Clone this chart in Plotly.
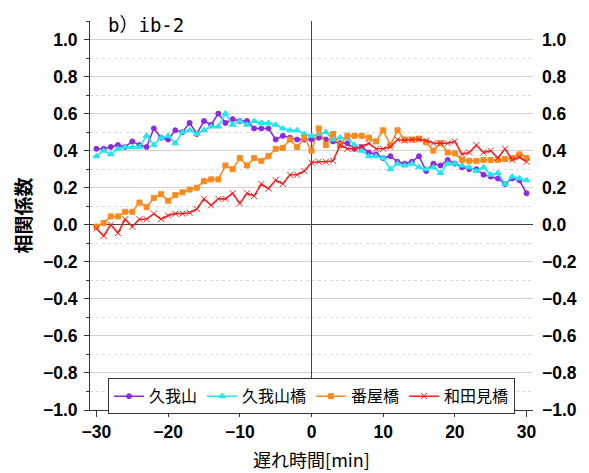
import plotly.graph_objects as go

# lag in minutes
lag = list(range(-30, 31))

kugayama = [0.41, 0.41, 0.42, 0.43, 0.42, 0.45, 0.43, 0.42, 0.52, 0.47,
            0.46, 0.51, 0.50, 0.55, 0.49, 0.56, 0.54, 0.60, 0.55, 0.57,
            0.56, 0.56, 0.52, 0.52, 0.52, 0.46, 0.48, 0.47, 0.46, 0.46,
            0.46,
            0.47, 0.46, 0.45, 0.44, 0.44, 0.41, 0.42, 0.39, 0.38, 0.36,
            0.37, 0.34, 0.33, 0.34, 0.37, 0.29, 0.33, 0.32, 0.35, 0.33,
            0.31, 0.30, 0.30, 0.27, 0.26, 0.25, 0.22, 0.25, 0.24, 0.17]

kugayama_bashi = [0.37, 0.40, 0.38, 0.41, 0.42, 0.42, 0.42, 0.48, 0.43, 0.47,
                  0.48, 0.44, 0.50, 0.51, 0.49, 0.51, 0.53, 0.53, 0.60, 0.54,
                  0.56, 0.54, 0.56, 0.55, 0.55, 0.54, 0.52, 0.51, 0.51, 0.49,
                  0.48,
                  0.49, 0.50, 0.46, 0.47, 0.47, 0.43, 0.40, 0.37, 0.37, 0.36,
                  0.30, 0.33, 0.32, 0.33, 0.31, 0.30, 0.31, 0.28, 0.33, 0.33,
                  0.32, 0.31, 0.29, 0.31, 0.27, 0.28, 0.22, 0.26, 0.25, 0.24]

banya_bashi = [-0.01, 0.01, 0.045, 0.045, 0.07, 0.07, 0.12, 0.095, 0.145, 0.165,
               0.13, 0.16, 0.175, 0.19, 0.20, 0.235, 0.245, 0.245, 0.32, 0.30,
               0.36, 0.32, 0.36, 0.345, 0.37, 0.41, 0.415, 0.46, 0.42, 0.47,
               0.40,
               0.52, 0.43, 0.49, 0.43, 0.48, 0.48, 0.48, 0.47, 0.45, 0.51,
               0.43, 0.51, 0.46, 0.46, 0.465, 0.445, 0.40, 0.44, 0.39, 0.385,
               0.35, 0.345, 0.345, 0.35, 0.35, 0.35, 0.355, 0.36, 0.38, 0.36]

wadami_bashi = [-0.02, -0.06, 0.0, -0.045, 0.03, -0.01, 0.03, 0.03, 0.06, 0.03,
                0.05, 0.06, 0.06, 0.065, 0.085, 0.14, 0.105, 0.14, 0.14, 0.17,
                0.115, 0.17, 0.155, 0.22, 0.195, 0.24, 0.22, 0.27, 0.27, 0.29,
                0.335,
                0.34, 0.34, 0.345, 0.43, 0.41, 0.41, 0.42, 0.44, 0.41, 0.41,
                0.42, 0.46, 0.455, 0.46, 0.46, 0.455, 0.44, 0.44, 0.44, 0.45,
                0.38, 0.39, 0.43, 0.39, 0.40, 0.36, 0.41, 0.35, 0.365, 0.34]

series = [
    ("久我山", kugayama, "#8A2BE2", "circle", 5),
    ("久我山橋", kugayama_bashi, "#22E5F0", "triangle-up", 6),
    ("番屋橋", banya_bashi, "#FF8A1C", "square", 5),
    ("和田見橋", wadami_bashi, "#FF1E1E", "x-thin", 6),
]

y_ticks = [round(-1.0 + 0.2 * i, 1) for i in range(11)]
y_ticktext = [f"{v:.1f}".replace("-", "\u2212") for v in y_ticks]

JP = "Noto Sans CJK JP"
NUM = "Liberation Sans"

fig = go.Figure()
for name, vals, color, symbol, size in series:
    fig.add_trace(go.Scatter(
        x=lag, y=vals, name=name, mode="lines+markers",
        line=dict(color=color, width=1.6),
        marker=dict(color=color, symbol=symbol, size=size,
                    line=dict(color=color, width=1)),
    ))

# invisible trace so the right-hand axis is drawn
fig.add_trace(go.Scatter(x=[0], y=[0], yaxis="y2", showlegend=False,
                         mode="markers", marker=dict(opacity=0),
                         hoverinfo="skip"))

axis_font = dict(family=NUM, size=17.5, color="#000", weight="bold")

fig.update_layout(
    width=589, height=473,
    margin=dict(l=90, r=56, t=21, b=63),
    paper_bgcolor="white", plot_bgcolor="white",
    font=dict(family=JP, color="#000"),
    xaxis=dict(
        range=[-30.9, 30.9], tickvals=[-30, -20, -10, 0, 10, 20, 30],
        ticktext=["\u221230", "\u221220", "\u221210", "0", "10", "20", "30"],
        ticks="outside", ticklen=6, tickcolor="#333", tickwidth=1,
        minor=dict(tickvals=[-25, -15, -5, 5, 15, 25], ticks="outside",
                   ticklen=3, tickcolor="#333"),
        showgrid=False, showline=True, linecolor="#333", linewidth=1,
        zeroline=True, zerolinecolor="#444", zerolinewidth=1,
        tickfont=axis_font, automargin=False,
        title=dict(text="遅れ時間[min]", font=dict(family=JP, size=18), standoff=13),
    ),
    yaxis=dict(
        range=[-1.0, 1.1], tickvals=y_ticks, ticktext=y_ticktext,
        ticks="outside", ticklen=5, tickcolor="#333", tickwidth=1,
        minor=dict(tickvals=[round(-0.9 + 0.2 * i, 1) for i in range(11)],
                   ticks="outside", ticklen=3, tickcolor="#333",
                   showgrid=True, gridcolor="#dadada", griddash="dot",
                   gridwidth=1),
        showgrid=True, gridcolor="#d2d2d2", gridwidth=1.3,
        showline=True, linecolor="#333", linewidth=1,
        zeroline=True, zerolinecolor="#444", zerolinewidth=1,
        tickfont=axis_font, ticklabelstandoff=3, automargin=False,
        title=dict(text="相関係数", font=dict(family=JP, size=19, weight="bold"),
                   standoff=6),
    ),
    yaxis2=dict(
        range=[-1.0, 1.1], tickvals=y_ticks, ticktext=y_ticktext,
        overlaying="y", side="right", showgrid=False, showline=False,
        zeroline=False, ticks="", tickfont=axis_font, ticklabelstandoff=8,
        automargin=False,
    ),
    legend=dict(
        orientation="h", x=0.5, xanchor="center", y=-0.011, yanchor="bottom",
        bgcolor="white", bordercolor="#333", borderwidth=1,
        font=dict(family=JP, size=16), itemwidth=30,
        tracegroupgap=0,
    ),
    showlegend=True,
    annotations=[dict(
        text="b）ib-2", xref="paper", yref="paper", x=0.036, y=0.99,
        xanchor="left", yanchor="middle", showarrow=False,
        font=dict(family="DejaVu Sans Mono, Noto Sans CJK JP", size=19,
                  color="#000"),
    )],
)

fig.write_html("out.html")
